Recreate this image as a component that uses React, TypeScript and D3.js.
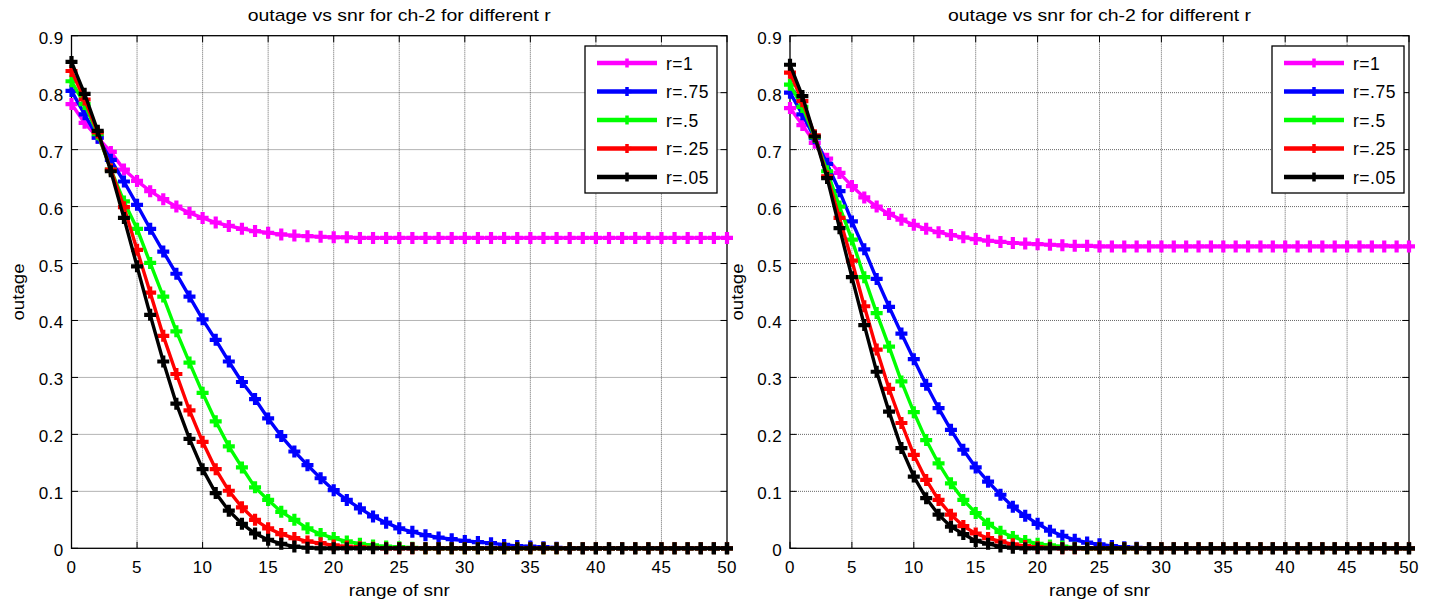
import React from 'react';
import * as d3 from 'd3';

// SNR sample points (shared by both panels)
const snr = [
  0, 1, 2, 3, 4, 5, 6, 7, 8, 9,
  10, 11, 12, 13, 14, 15, 16, 17, 18, 19,
  20, 21, 22, 23, 24, 25, 26, 27, 28, 29,
  30, 31, 32, 33, 34, 35, 36, 37, 38, 39,
  40, 41, 42, 43, 44, 45, 46, 47, 48, 49,
  50,
];

const seriesLabels = ['r=1', 'r=.75', 'r=.5', 'r=.25', 'r=.05'];
const seriesColors = ['#ff00ff', '#0000ff', '#00ff00', '#ff0000', '#000000'];

const xTicks = [0, 5, 10, 15, 20, 25, 30, 35, 40, 45, 50];
const yTicks = [0, 0.1, 0.2, 0.3, 0.4, 0.5, 0.6, 0.7, 0.8, 0.9];
const yTickLabels = ['0', '0.1', '0.2', '0.3', '0.4', '0.5', '0.6', '0.7', '0.8', '0.9'];

// ---- left panel outage values ----
const leftR100 = [
  0.780, 0.747, 0.721, 0.696, 0.665, 0.645, 0.627, 0.613, 0.600, 0.589,
  0.580, 0.572, 0.566, 0.561, 0.557, 0.554, 0.551, 0.549, 0.548, 0.547,
  0.546, 0.546, 0.545, 0.545, 0.545, 0.545, 0.545, 0.545, 0.545, 0.545,
  0.545, 0.545, 0.545, 0.545, 0.545, 0.545, 0.545, 0.545, 0.545, 0.545,
  0.545, 0.545, 0.545, 0.545, 0.545, 0.545, 0.545, 0.545, 0.545, 0.545,
  0.545,
];
const leftR075 = [
  0.803, 0.762, 0.721, 0.682, 0.644, 0.603, 0.561, 0.521, 0.482, 0.442,
  0.402, 0.366, 0.328, 0.292, 0.262, 0.228, 0.197, 0.170, 0.146, 0.123,
  0.102, 0.085, 0.070, 0.056, 0.045, 0.035, 0.029, 0.023, 0.019, 0.016,
  0.013, 0.011, 0.009, 0.006, 0.004, 0.003, 0.002, 0.001, 0, 0,
  0, 0, 0, 0, 0, 0, 0, 0, 0, 0,
  0,
];
const leftR050 = [
  0.820, 0.780, 0.727, 0.665, 0.609, 0.561, 0.501, 0.442, 0.381, 0.326,
  0.273, 0.223, 0.179, 0.142, 0.107, 0.085, 0.064, 0.050, 0.035, 0.025,
  0.018, 0.012, 0.008, 0.005, 0.003, 0.002, 0.001, 0, 0, 0,
  0, 0, 0, 0, 0, 0, 0, 0, 0, 0,
  0, 0, 0, 0, 0, 0, 0, 0, 0, 0,
  0,
];
const leftR025 = [
  0.838, 0.788, 0.730, 0.665, 0.599, 0.524, 0.449, 0.373, 0.306, 0.242,
  0.187, 0.139, 0.101, 0.072, 0.050, 0.035, 0.025, 0.018, 0.012, 0.009,
  0.005, 0.003, 0.002, 0.001, 0, 0, 0, 0, 0, 0,
  0, 0, 0, 0, 0, 0, 0, 0, 0, 0,
  0, 0, 0, 0, 0, 0, 0, 0, 0, 0,
  0,
];
const leftR005 = [
  0.854, 0.798, 0.733, 0.662, 0.580, 0.495, 0.410, 0.328, 0.254, 0.192,
  0.139, 0.097, 0.066, 0.043, 0.026, 0.015, 0.008, 0.003, 0.001, 0,
  0, 0, 0, 0, 0, 0, 0, 0, 0, 0,
  0, 0, 0, 0, 0, 0, 0, 0, 0, 0,
  0, 0, 0, 0, 0, 0, 0, 0, 0, 0,
  0,
];

// ---- right panel outage values ----
const rightR100 = [
  0.773, 0.743, 0.712, 0.684, 0.659, 0.636, 0.616, 0.600, 0.587, 0.577,
  0.568, 0.561, 0.555, 0.550, 0.546, 0.543, 0.540, 0.538, 0.536, 0.535,
  0.534, 0.533, 0.532, 0.531, 0.531, 0.530, 0.530, 0.530, 0.530, 0.530,
  0.530, 0.530, 0.530, 0.530, 0.530, 0.530, 0.530, 0.530, 0.530, 0.530,
  0.530, 0.530, 0.530, 0.530, 0.530, 0.530, 0.530, 0.530, 0.530, 0.530,
  0.530,
];
const rightR075 = [
  0.800, 0.762, 0.720, 0.675, 0.627, 0.574, 0.525, 0.473, 0.424, 0.377,
  0.332, 0.287, 0.246, 0.208, 0.173, 0.142, 0.117, 0.094, 0.073, 0.057,
  0.043, 0.031, 0.022, 0.015, 0.010, 0.007, 0.004, 0.002, 0.001, 0,
  0, 0, 0, 0, 0, 0, 0, 0, 0, 0,
  0, 0, 0, 0, 0, 0, 0, 0, 0, 0,
  0,
];
const rightR050 = [
  0.814, 0.775, 0.722, 0.662, 0.600, 0.542, 0.476, 0.413, 0.354, 0.293,
  0.239, 0.190, 0.149, 0.114, 0.085, 0.062, 0.043, 0.029, 0.020, 0.013,
  0.008, 0.005, 0.003, 0.001, 0, 0, 0, 0, 0, 0,
  0, 0, 0, 0, 0, 0, 0, 0, 0, 0,
  0, 0, 0, 0, 0, 0, 0, 0, 0, 0,
  0,
];
const rightR025 = [
  0.835, 0.785, 0.725, 0.653, 0.580, 0.505, 0.425, 0.349, 0.280, 0.220,
  0.164, 0.120, 0.085, 0.059, 0.039, 0.026, 0.018, 0.012, 0.007, 0.004,
  0.002, 0.001, 0, 0, 0, 0, 0, 0, 0, 0,
  0, 0, 0, 0, 0, 0, 0, 0, 0, 0,
  0, 0, 0, 0, 0, 0, 0, 0, 0, 0,
  0,
];
const rightR005 = [
  0.849, 0.794, 0.723, 0.650, 0.562, 0.476, 0.392, 0.310, 0.240, 0.176,
  0.126, 0.088, 0.059, 0.038, 0.025, 0.013, 0.008, 0.003, 0.001, 0,
  0, 0, 0, 0, 0, 0, 0, 0, 0, 0,
  0, 0, 0, 0, 0, 0, 0, 0, 0, 0,
  0, 0, 0, 0, 0, 0, 0, 0, 0, 0,
  0,
];

const leftSeries = [leftR100, leftR075, leftR050, leftR025, leftR005];
const rightSeries = [rightR100, rightR075, rightR050, rightR025, rightR005];

const titleText = 'outage vs snr for ch-2 for different r';
const xLabelText = 'range of snr';
const yLabelText = 'outage';

const FONT = "'Liberation Sans', Arial, sans-serif";
const TOP = 35.7;
const BOTTOM = 548.3;
const TICK = 6.5;

const plusPath = (r: number) => `M${-r},0H${r}M0,${-r}V${r}`;

type PanelProps = {
  left: number;
  right: number;
  series: number[][];
  legendLeft: number;
  yLabelX: number;
};

function Panel({ left, right, series, legendLeft, yLabelX }: PanelProps) {
  const x = d3.scaleLinear().domain([0, 50]).range([left, right]);
  const y = d3.scaleLinear().domain([0, 0.9]).range([BOTTOM, TOP]);
  const line = d3
    .line<number>()
    .x((_, i) => x(snr[i]))
    .y((d) => y(d));
  const cx = (left + right) / 2;

  const legendTop = 46;
  const legendW = 132;
  const legendH = 147;

  return (
    <g>
      <rect x={left} y={TOP} width={right - left} height={BOTTOM - TOP} fill="#fff" />
      {/* grid */}
      {xTicks.slice(1, -1).map((t) => (
        <line
          key={`gx${t}`}
          x1={x(t)}
          x2={x(t)}
          y1={TOP}
          y2={BOTTOM}
          stroke="#444"
          strokeWidth={1}
          strokeDasharray="1 1"
          opacity={0.8}
        />
      ))}
      {yTicks.slice(1, -1).map((t) => (
        <line
          key={`gy${t}`}
          x1={left}
          x2={right}
          y1={y(t)}
          y2={y(t)}
          stroke="#444"
          strokeWidth={1}
          strokeDasharray="1 1"
          opacity={0.8}
        />
      ))}
      {/* ticks on all four sides, pointing inward */}
      {xTicks.map((t) => (
        <g key={`tx${t}`}>
          <line x1={x(t)} x2={x(t)} y1={BOTTOM} y2={BOTTOM - TICK} stroke="#000" />
          <line x1={x(t)} x2={x(t)} y1={TOP} y2={TOP + TICK} stroke="#000" />
          <text
            x={x(t)}
            y={573}
            textAnchor="middle"
            fontSize={17}
            fontFamily={FONT}
            letterSpacing={0.4}
          >
            {String(t)}
          </text>
        </g>
      ))}
      {yTicks.map((t, i) => (
        <g key={`ty${t}`}>
          <line x1={left} x2={left + TICK} y1={y(t)} y2={y(t)} stroke="#000" />
          <line x1={right} x2={right - TICK} y1={y(t)} y2={y(t)} stroke="#000" />
          <text
            x={left - 8}
            y={y(t) + 8}
            textAnchor="end"
            fontSize={17}
            fontFamily={FONT}
            letterSpacing={0.4}
          >
            {yTickLabels[i]}
          </text>
        </g>
      ))}
      <rect
        x={left}
        y={TOP}
        width={right - left}
        height={BOTTOM - TOP}
        fill="none"
        stroke="#000"
        strokeWidth={1.3}
      />
      {/* curves */}
      {series.map((vals, si) => (
        <g key={`s${si}`}>
          <path d={line(vals) || ''} fill="none" stroke={seriesColors[si]} strokeWidth={3.4} />
          {vals.map((v, i) => (
            <path
              key={i}
              d={plusPath(6)}
              transform={`translate(${x(snr[i])},${y(v)})`}
              stroke={seriesColors[si]}
              strokeWidth={4.2}
              fill="none"
            />
          ))}
        </g>
      ))}
      {/* legend */}
      <rect
        x={legendLeft}
        y={legendTop}
        width={legendW}
        height={legendH}
        fill="#fff"
        stroke="#000"
        strokeWidth={1.3}
      />
      {seriesLabels.map((lab, i) => {
        const ly = legendTop + 17 + i * 28.5;
        return (
          <g key={lab}>
            <line
              x1={legendLeft + 12}
              x2={legendLeft + 72}
              y1={ly}
              y2={ly}
              stroke={seriesColors[i]}
              strokeWidth={4.5}
            />
            <path
              d={plusPath(4.5)}
              transform={`translate(${legendLeft + 42},${ly})`}
              stroke={seriesColors[i]}
              strokeWidth={3.5}
            />
            <text
              x={legendLeft + 81}
              y={ly + 6.5}
              fontSize={17.5}
              fontFamily={FONT}
              letterSpacing={0.5}
            >
              {lab}
            </text>
          </g>
        );
      })}
      {/* title and axis labels */}
      <text
        x={cx}
        y={21}
        textAnchor="middle"
        fontSize={17}
        fontFamily={FONT}
        textLength={303}
        lengthAdjust="spacingAndGlyphs"
      >
        {titleText}
      </text>
      <text
        x={cx}
        y={596}
        textAnchor="middle"
        fontSize={17}
        fontFamily={FONT}
        textLength={101}
        lengthAdjust="spacingAndGlyphs"
      >
        {xLabelText}
      </text>
      <text
        transform={`translate(${yLabelX},${(TOP + BOTTOM) / 2}) rotate(-90)`}
        textAnchor="middle"
        fontSize={17}
        fontFamily={FONT}
        textLength={57}
        lengthAdjust="spacingAndGlyphs"
      >
        {yLabelText}
      </text>
    </g>
  );
}

export default function App() {
  return (
    <svg
      width={1434}
      height={604}
      style={{ position: 'absolute', left: 0, top: 0, background: '#fff' }}
    >
      <rect width={1434} height={604} fill="#fff" />
      <Panel left={71.5} right={727} series={leftSeries} legendLeft={585} yLabelX={24} />
      <Panel left={790} right={1409} series={rightSeries} legendLeft={1272} yLabelX={743} />
    </svg>
  );
}
